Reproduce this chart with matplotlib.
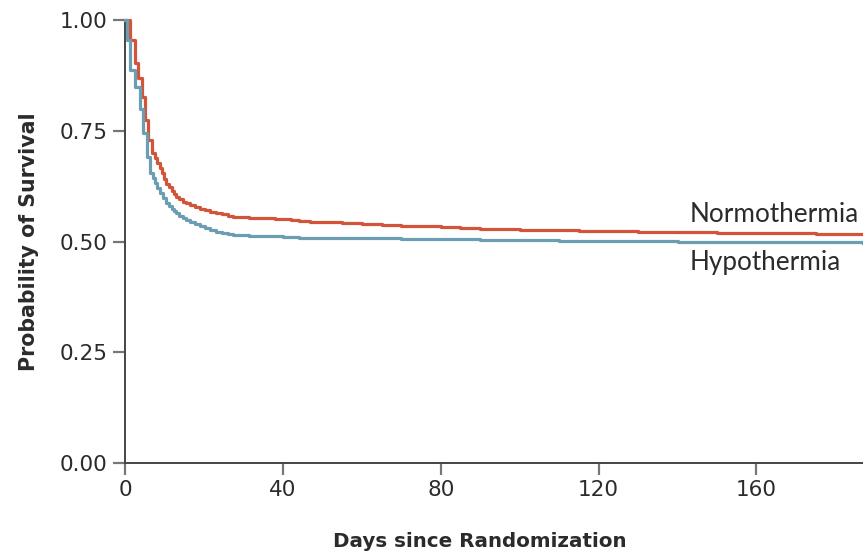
import matplotlib
matplotlib.use("Agg")
import matplotlib.pyplot as plt

# Kaplan-Meier style survival data
days_normo = [0, 1.3, 2.5, 3.4, 4.2, 5.1, 5.9, 6.8, 7.5, 8.1, 8.8, 9.4, 10.0, 10.5, 11.2, 11.8, 12.4, 13, 13.8, 14.7,
              15.5, 16.4, 17.7, 19, 20.2, 21.5, 23, 24.5, 26, 27.4, 29.5, 31.5, 33.7, 35.9, 38, 40, 42, 44, 47, 50,
              55, 60, 65, 70, 75, 80, 85, 90, 95, 100, 105, 110, 115, 120, 130, 140, 150, 160, 168, 175, 181, 187]
surv_normo = [1.0, 0.955, 0.903, 0.869, 0.826, 0.774, 0.729, 0.700, 0.688, 0.677, 0.666, 0.655, 0.642, 0.630, 0.622,
              0.614, 0.607, 0.601, 0.595, 0.590, 0.586, 0.582, 0.578, 0.574, 0.570, 0.567, 0.564, 0.561, 0.558, 0.556,
              0.555, 0.554, 0.553, 0.553, 0.551, 0.550, 0.548, 0.546, 0.544, 0.543, 0.541, 0.540, 0.538, 0.536, 0.534,
              0.532, 0.530, 0.529, 0.528, 0.527, 0.526, 0.525, 0.524, 0.523, 0.522, 0.521, 0.520, 0.519, 0.519, 0.518,
              0.517, 0.517]

days_hypo = [0, 0.5, 1.3, 2.5, 3.8, 4.6, 5.5, 6.3, 7.0, 7.6, 8.2, 8.9, 9.7, 10.5, 11.2, 11.8, 12.4, 13, 13.8, 14.7,
             15.5, 16.4, 17.7, 19, 20.2, 21.5, 23, 24.5, 26, 27.4, 29.5, 31.5, 33.7, 35.9, 40, 44, 50, 60, 70, 80, 90,
             100, 110, 120, 130, 140, 150, 160, 170, 180, 187]
surv_hypo = [1.0, 0.955, 0.887, 0.849, 0.800, 0.745, 0.691, 0.655, 0.643, 0.632, 0.620, 0.609, 0.598, 0.587, 0.580,
             0.574, 0.569, 0.564, 0.558, 0.553, 0.548, 0.544, 0.539, 0.534, 0.530, 0.526, 0.522, 0.519, 0.517, 0.515,
             0.514, 0.513, 0.512, 0.512, 0.510, 0.509, 0.508, 0.507, 0.506, 0.505, 0.504, 0.503, 0.502, 0.501, 0.501,
             0.500, 0.499, 0.499, 0.498, 0.498, 0.497]

x_ticks = [0, 40, 80, 120, 160]
y_ticks = [0.0, 0.25, 0.50, 0.75, 1.00]
y_tick_labels = ["0.00", "0.25", "0.50", "0.75", "1.00"]

red = "#d2553b"
blue = "#6b9db3"
txt = "#2b2b2b"
cond = ["DejaVu Sans Condensed", "DejaVu Sans"]

fig = plt.figure(figsize=(8.63, 5.57), dpi=100)
ax = fig.add_axes([125 / 863, 94 / 557, 1 - 125 / 863, (463 - 20) / 557])

ax.step(days_normo, surv_normo, where="post", color=red, lw=2.3, clip_on=False, zorder=3)
ax.step(days_hypo, surv_hypo, where="post", color=blue, lw=2.3, clip_on=False, zorder=3)

ax.set_xlim(0, 187)
ax.set_ylim(0, 1.0)
ax.set_xticks(x_ticks)
ax.set_yticks(y_ticks)
ax.set_yticklabels(y_tick_labels)

for lab in ax.get_xticklabels() + ax.get_yticklabels():
    lab.set_fontfamily(cond)
    lab.set_fontsize(15.5)
    lab.set_color(txt)

for s in ["top", "right"]:
    ax.spines[s].set_visible(False)
for s in ["left", "bottom"]:
    ax.spines[s].set_color("#444444")
    ax.spines[s].set_linewidth(1.4)

ax.tick_params(axis="both", direction="out", length=8.5, width=1.6, color="#777777")
ax.tick_params(axis="y", pad=4)
ax.tick_params(axis="x", pad=4)

ax.set_xlabel("Days since Randomization", family=cond,
              fontsize=14.3, fontweight="bold", color=txt)
ax.xaxis.set_label_coords(0.481, -0.155)
ax.set_ylabel("Probability of Survival", family=cond,
              fontsize=14.8, fontweight="bold", color=txt, labelpad=15)

ax.text(143, 0.562, "Normothermia", family=["Lato", "DejaVu Sans"], fontsize=18.8, color=txt,
        ha="left", va="center")
ax.text(143, 0.452, "Hypothermia", family=["Lato", "DejaVu Sans"], fontsize=18.8, color=txt,
        ha="left", va="center")

fig.savefig("out.png", dpi=100)
